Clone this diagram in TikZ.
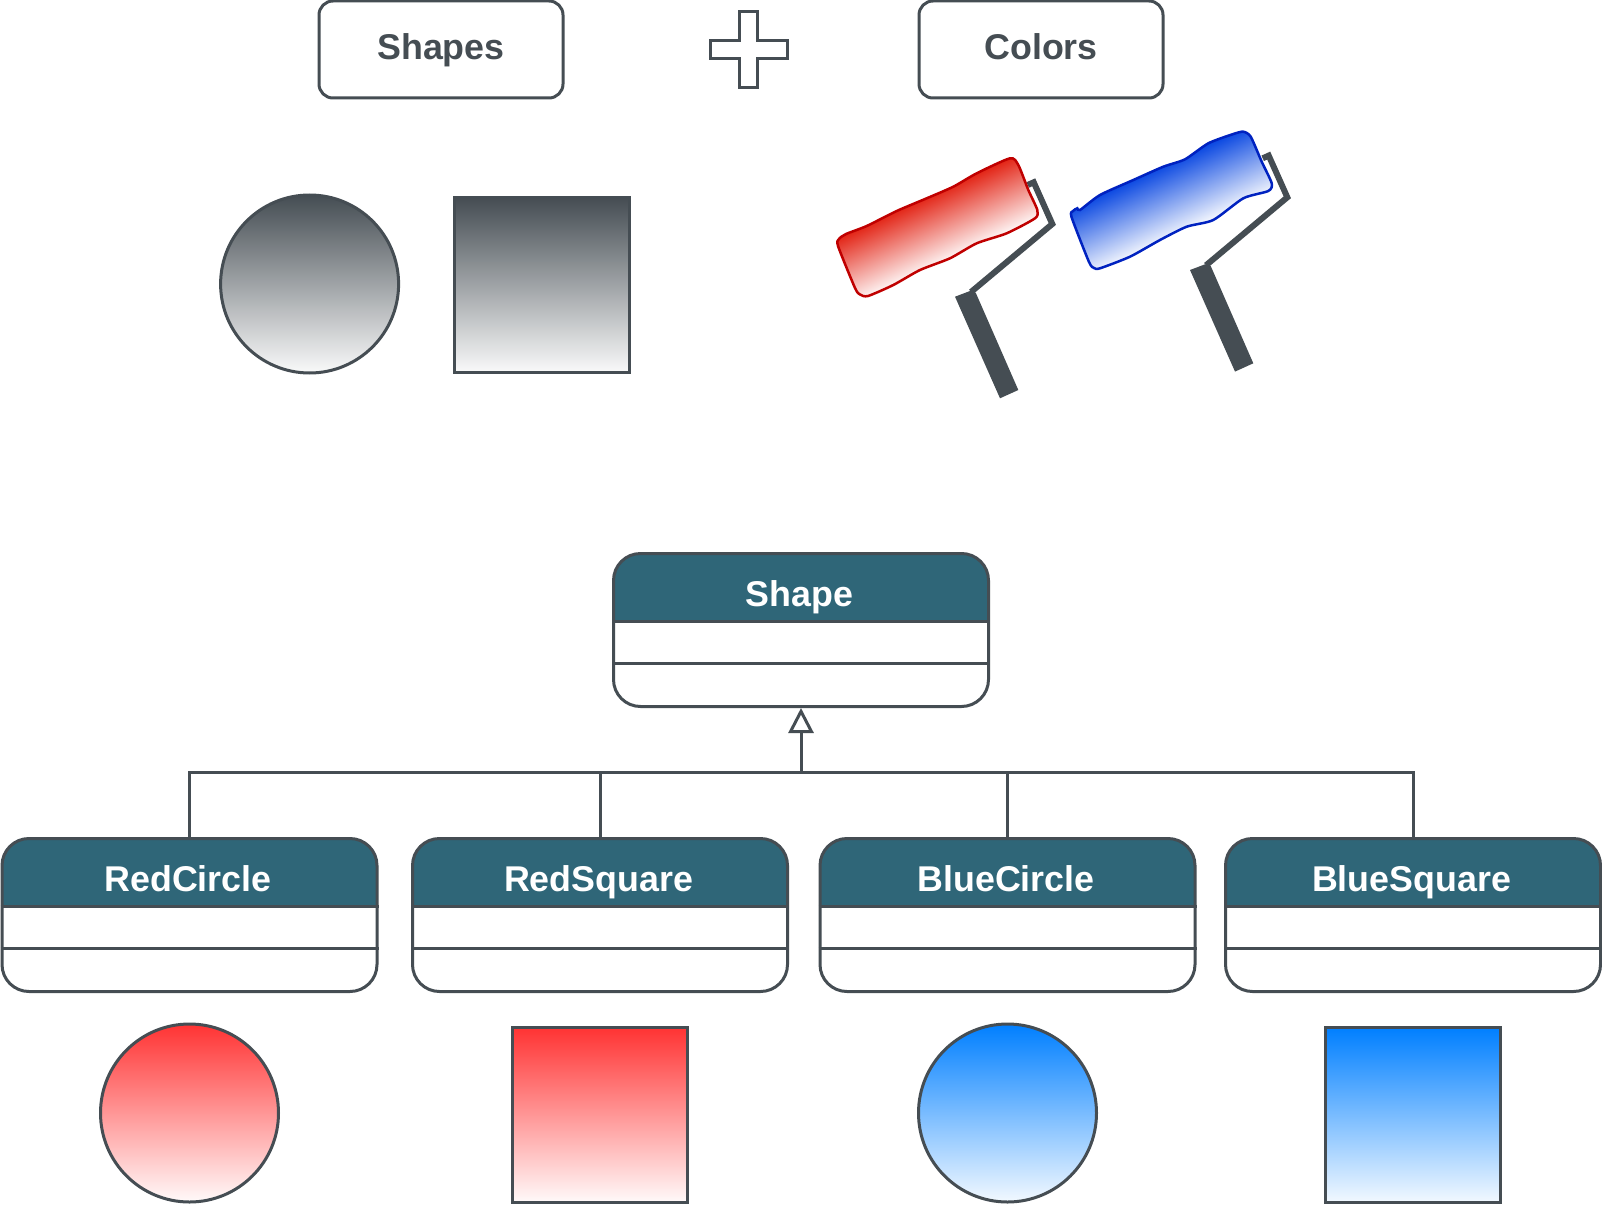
\documentclass[tikz,border=0pt]{standalone}
\usepackage{fontspec}
\setmainfont{Liberation Sans}
\usetikzlibrary{arrows.meta,positioning}

\definecolor{linegray}{HTML}{454D53}
\definecolor{headteal}{HTML}{2F6678}
\definecolor{rollerred}{HTML}{E01000}
\definecolor{rollerblue}{HTML}{0040E0}
\definecolor{edgered}{HTML}{C00000}
\definecolor{edgeblue}{HTML}{0022C0}
\definecolor{skyblue}{HTML}{007FFF}

\pgfdeclareverticalshading{redpaint}{340bp}{color(0bp)=(white); color(76bp)=(rollerred)}
\pgfdeclareverticalshading{bluepaint}{340bp}{color(0bp)=(white); color(76bp)=(rollerblue)}

\tikzset{
    topbox/.style={draw=linegray, line width=3pt, rounded corners=14pt, minimum width=244pt, minimum height=97pt,
        inner sep=0pt, text height=23pt, text depth=3pt, text=linegray, font=\fontsize{35.8}{40}\selectfont\bfseries},
    classbody/.style={draw=linegray, line width=3pt, rounded corners=27pt, fill=white, anchor=north,
        minimum width=375pt, minimum height=153pt, inner sep=0pt,
        path picture={\fill[headteal, sharp corners] (path picture bounding box.north west) rectangle ++(375,69);}},
    classtitle/.style={anchor=base, inner sep=0pt, text=white, font=\fontsize{35.8}{40}\selectfont\bfseries},
    classline/.style={draw=linegray, line width=3pt},
    roundform/.style={draw=linegray, line width=3pt, circle, minimum size=178pt, inner sep=0pt},
    squareform/.style={draw=linegray, line width=3pt, rectangle, minimum size=175pt, inner sep=0pt},
    grayfade/.style={top color=linegray, bottom color=linegray!3},
    redfade/.style={top color=red!80!white, bottom color=red!2},
    bluefade/.style={top color=skyblue, bottom color=skyblue!5},
    rollerarm/.style={draw=linegray, line width=6pt, miter limit=10},
    rollergrip/.style={fill=linegray},
    rollerbody/.style n args={4}{draw=#2, line width=2.5pt,
        path picture={\node[rotate=25, inner sep=0pt] at (#3,#4) {\pgfuseshading{#1}};}},
}

% class box with header and two compartments
\newcommand{\umlclass}[4]{
    \node[classbody] (#1) at (#2,#3) {};
    \node[classtitle] (#1title) at ([xshift=-1.5pt,yshift=-54pt]#1.north) {#4};
    \draw[classline] ([yshift=-69pt]#1.north west) -- ([yshift=-69pt]#1.north east);
    \draw[classline] ([yshift=-111pt]#1.north west) -- ([yshift=-111pt]#1.north east);
}

\begin{document}
\begin{tikzpicture}[x=1pt, y=-1pt]
    \useasboundingbox (0,0) rectangle (1602,1206);

    % top row
    \node[topbox] (shapes) at (441,49.5) {Shapes\hspace{5pt}};
    \node[topbox] (colors) at (1041,49.5) {Colors\hspace{5pt}};
    \draw[draw=linegray, line width=3pt, fill=white] (739,11.5) -- (757,11.5) -- (757,40.5) -- (787,40.5) -- (787,58.5)
        -- (757,58.5) -- (757,88) -- (739,88) -- (739,58.5) -- (710,58.5) -- (710,40.5) -- (739,40.5) -- cycle;

    \node[roundform, grayfade] (graycircle) at (309.6,284) {};
    \node[squareform, grayfade] (graysquare) at (541.5,285) {};

    % red roller
    \draw[rollerarm] (1027.7,185) -- (1033.7,182.3) -- (1052.3,224) -- (971,292);
    \fill[rollergrip] (955,296.7) -- (970,291) -- (975.7,292.7) -- (1018.3,390) -- (1000,398.3) -- cycle;
    \draw[rollerbody={redpaint}{edgered}{936}{227}]
        plot[smooth cycle, tension=.4] coordinates {(838,246) (839,239) (846,234) (866.7,226) (896.7,211) (926.7,198.3) (953.3,186.7)
            (976.7,173.3) (1010,158.3) (1018.3,165) (1028.3,190) (1037.3,210) (1035,218.3) (1006.7,233.3) (976.7,243.3)
            (950,258.3) (920,270) (893.3,285) (868,296) (860,294.5) (855,288)};

    % blue roller
    \draw[rollerarm] (1262.7,158.3) -- (1268.7,155.6) -- (1287.3,197.3) -- (1206,265.3);
    \fill[rollergrip] (1190,270) -- (1205,264.3) -- (1210.7,266) -- (1253.3,363.3) -- (1235,371.6) -- cycle;
    \draw[rollerbody={bluepaint}{edgeblue}{1171}{200}]
        plot[smooth cycle, tension=.4] coordinates {(1071.5,217) (1073,211) (1077.3,208.3) (1080,210) (1100,195) (1133.3,180)
            (1163.3,166.7) (1185,159.3) (1208.3,143.3) (1233.3,134) (1243.3,131.7) (1250.7,136.7) (1261.7,161.7) (1271.7,183.3)
            (1268.3,191) (1243.3,198.3) (1213.3,220) (1186.7,226.7) (1160,240) (1130,256.7) (1100,268.3) (1094,268) (1089,262)};

    % class tree
    \umlclass{shape}{801}{552}{Shape}
    \umlclass{redcircle}{189.5}{837}{RedCircle}
    \umlclass{redsquare}{600}{837}{RedSquare}
    \umlclass{bluecircle}{1007.5}{837}{BlueCircle}
    \umlclass{bluesquare}{1413}{837}{BlueSquare}

    \coordinate (bus) at (801,772);
    \draw[classline, -{Triangle[open, length=25pt, width=25pt]}] (bus) -- (shape.south);
    \draw[classline] (redcircle.north) |- (bus);
    \draw[classline] (redsquare.north) |- (bus);
    \draw[classline] (bluecircle.north) |- (bus);
    \draw[classline] (bluesquare.north) |- (bus);

    % bottom row
    \node[roundform, redfade] (redform) at (189.5,1113) {};
    \node[squareform, redfade] (redbox) at (600,1115) {};
    \node[roundform, bluefade] (blueform) at (1007.5,1113) {};
    \node[squareform, bluefade] (bluebox) at (1413,1115) {};
\end{tikzpicture}
\end{document}
